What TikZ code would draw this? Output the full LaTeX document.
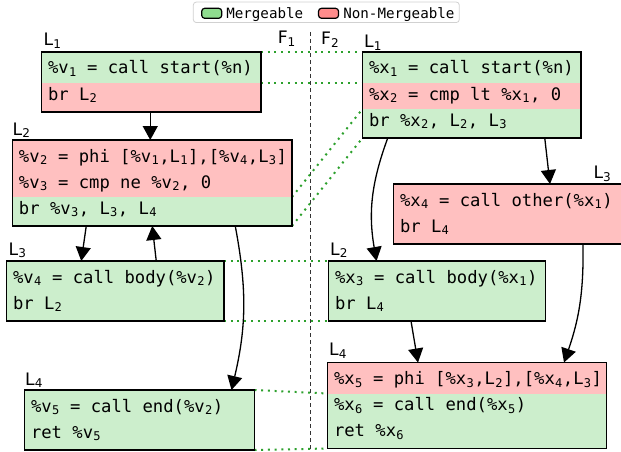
\documentclass[tikz,border=0pt]{standalone}
\usepackage{fontspec}
\setmainfont{DejaVu Sans}
\setmonofont{DejaVu Sans Mono}
\usetikzlibrary{arrows.meta,positioning}

\definecolor{mergefill}{HTML}{CCEECC}
\definecolor{nonmergefill}{HTML}{FFC0C0}
\definecolor{mergekey}{HTML}{8FDC8F}
\definecolor{nonmergekey}{HTML}{FF8C8C}
\definecolor{matchgreen}{HTML}{2CA02C}

% 代码里的下标
\newcommand{\idx}[1]{\kern0.3pt\textsubscript{#1}\relax}
% 代码行: 不断行, 用字体本身的空格
\newcommand{\codebegin}{\leavevmode\hbox\bgroup\spaceskip0pt\xspaceskip0pt\relax}

\tikzset{
  row/.style={rectangle, inner xsep=6.5pt, inner ysep=0pt, outer sep=0pt,
    anchor=north west, minimum height=26pt, text height=13pt, text depth=5pt,
    align=left, text width=#1-13pt,
    font=\ttfamily\fontsize{17.2pt}{20pt}\selectfont,
    execute at begin node={\codebegin},
    execute at end node={\egroup}},
  toprow/.style={minimum height=31pt, text height=18pt},
  endrow/.style={minimum height=29pt, text depth=8pt},
  mrow/.style={row=#1, fill=mergefill},
  nrow/.style={row=#1, fill=nonmergefill},
  blockline/.style={draw=black, line width=1.4pt},
  blocklabel/.style={anchor=base west, inner sep=0pt, font=\fontsize{17.2pt}{20pt}\selectfont},
  flow/.style={-{Triangle[width=15pt,length=14pt]}, line width=1.3pt},
  match/.style={matchgreen, line width=2pt, dash pattern=on 2pt off 4.7pt},
  sepline/.style={black!80, line width=1pt, dash pattern=on 4pt off 3pt},
  keybox/.style={draw=black!18, fill=white, rounded corners=3pt, line width=0.8pt},
  swatch/.style={draw=black, line width=1.2pt, rounded corners=3pt, minimum width=20pt, minimum height=10pt, inner sep=0pt},
  keytext/.style={inner sep=0pt, text height=13pt, text depth=3pt, font=\ttfamily\fontsize{14.2pt}{16pt}\selectfont}
}

\begin{document}
\begin{tikzpicture}[x=1pt, y=-1pt]
    \useasboundingbox (0,0) rectangle (621,452);
    \clip (0,0) rectangle (621,452);

    % 图例
    \node[keybox, minimum width=266pt, minimum height=20.5pt] (key) at (326.3,12.3) {};
    \node[swatch, fill=mergekey] (kmerge) at (211.7,13.3) {};
    \node[keytext, right=3.8pt of kmerge] (kmergetext) {Mergeable};
    \node[swatch, fill=nonmergekey, right=14.5pt of kmergetext] (knonmerge) {};
    \node[keytext, right=4pt of knonmerge] (knonmergetext) {Non-Mergeable};

    % 两个函数之间的分隔线
    \coordinate (septop) at (310,32);
    \coordinate (sepbot) at (310,452);
    \draw[sepline] (septop) -- (sepbot);
    \node[blocklabel] (f1) at (277.6,44) {F\textsubscript{1}};
    \node[blocklabel] (f2) at (321,45) {F\textsubscript{2}};

    % F1 的基本块
    \node[mrow=219.5pt, toprow] (lv1a) at (41.5,52) {\%v\idx{1} = call start(\%n)};
    \node[nrow=219.5pt, endrow] (lv1b) at (lv1a.south west) {br L\idx{2}};

    \node[nrow=279.5pt, toprow] (lv2a) at (12.5,140) {\%v\idx{2} = phi [\%v\idx{1},L\idx{1}],[\%v\idx{4},L\idx{3}]};
    \node[nrow=279.5pt] (lv2b) at (lv2a.south west) {\%v\idx{3} = cmp ne \%v\idx{2}, 0};
    \node[mrow=279.5pt, endrow] (lv2c) at (lv2b.south west) {br \%v\idx{3}, L\idx{3}, L\idx{4}};

    \node[mrow=217.5pt, toprow] (lv3a) at (6.5,261) {\%v\idx{4} = call body(\%v\idx{2})};
    \node[mrow=217.5pt, endrow] (lv3b) at (lv3a.south west) {br L\idx{2}};

    \node[mrow=230pt, toprow] (lv4a) at (24.5,390) {\%v\idx{5} = call end(\%v\idx{2})};
    \node[mrow=230pt, endrow] (lv4b) at (lv4a.south west) {ret \%v\idx{5}};

    % F2 的基本块
    \node[mrow=218.5pt, toprow] (rx1a) at (362.5,52) {\%x\idx{1} = call start(\%n)};
    \node[nrow=218.5pt] (rx1b) at (rx1a.south west) {\%x\idx{2} = cmp lt \%x\idx{1}, 0};
    \node[mrow=218.5pt, endrow] (rx1c) at (rx1b.south west) {br \%x\idx{2}, L\idx{2}, L\idx{3}};

    \node[nrow=250pt, toprow] (rx3a) at (393.5,184) {\%x\idx{4} = call other(\%x\idx{1})};
    \node[nrow=250pt, endrow] (rx3b) at (rx3a.south west) {br L\idx{4}};

    \node[mrow=217pt, toprow] (rx2a) at (328.5,261) {\%x\idx{3} = call body(\%x\idx{1})};
    \node[mrow=217pt, endrow] (rx2b) at (rx2a.south west) {br L\idx{4}};

    \node[nrow=279pt, toprow] (rx4a) at (327.5,362.5) {\%x\idx{5} = phi [\%x\idx{3},L\idx{2}],[\%x\idx{4},L\idx{3}]};
    \node[mrow=279pt] (rx4b) at (rx4a.south west) {\%x\idx{6} = call end(\%x\idx{5})};
    \node[mrow=279pt, endrow] (rx4c) at (rx4b.south west) {ret \%x\idx{6}};

    % 可合并的对应关系 (绿色点线)
    \draw[match] (lv1a.north east) -- (rx1a.north west);
    \draw[match] (lv1b.north east) -- (rx1b.north west);
    \draw[match] (lv2c.north east) -- (rx1c.north west);
    \draw[match] (lv2c.south east) -- (rx1c.south west);
    \draw[match] (lv3a.north east) -- (rx2a.north west);
    \draw[match] (lv3b.south east) -- (rx2b.south west);
    \draw[match] (lv4a.north east) -- (rx4b.north west);
    \draw[match] (lv4b.south east) -- (rx4c.south west);

    % 基本块外框
    \draw[blockline] (lv1a.north west) rectangle (lv1b.south east);
    \draw[blockline] (lv2a.north west) rectangle (lv2c.south east);
    \draw[blockline] (lv3a.north west) rectangle (lv3b.south east);
    \draw[blockline] (lv4a.north west) rectangle (lv4b.south east);
    \draw[blockline] (rx1a.north west) rectangle (rx1c.south east);
    \draw[blockline] (rx3a.north west) rectangle (rx3b.south east);
    \draw[blockline] (rx2a.north west) rectangle (rx2b.south east);
    \draw[blockline] (rx4a.north west) rectangle (rx4c.south east);

    % 块标签
    \node[blocklabel] (lv1l) at ([xshift=2pt,yshift=6.3pt]lv1a.north west) {L\textsubscript{1}};
    \node[blocklabel] (lv2l) at ([xshift=0pt,yshift=5pt]lv2a.north west) {L\textsubscript{2}};
    \node[blocklabel] (lv3l) at ([xshift=2pt,yshift=6pt]lv3a.north west) {L\textsubscript{3}};
    \node[blocklabel] (lv4l) at ([xshift=0.5pt,yshift=5pt]lv4a.north west) {L\textsubscript{4}};
    \node[blocklabel] (rx1l) at ([xshift=1.5pt,yshift=4.5pt]rx1a.north west) {L\textsubscript{1}};
    \node[blocklabel] (rx3l) at ([xshift=199.8pt,yshift=5.7pt]rx3a.north west) {L\textsubscript{3}};
    \node[blocklabel] (rx2l) at ([xshift=1.5pt,yshift=6pt]rx2a.north west) {L\textsubscript{2}};
    \node[blocklabel] (rx4l) at ([xshift=1.5pt,yshift=6.8pt]rx4a.north west) {L\textsubscript{4}};

    % 控制流箭头
    \draw[flow] ([xshift=-1pt]lv1b.south) -- ([xshift=-2pt]lv2a.north);
    \draw[flow] ([xshift=-66pt]lv2c.south) -- ([xshift=-34pt]lv3a.north);
    \draw[flow] ([xshift=41pt]lv3a.north) -- (lv2c.south);
    \draw[flow] ([xshift=83pt]lv2c.south) to[bend left=12] ([xshift=92pt]lv4a.north);
    \draw[flow] ([xshift=-84pt]rx1c.south) to[bend right=15] ([xshift=-60.5pt]rx2a.north);
    \draw[flow] ([xshift=73pt]rx1c.south) -- ([xshift=31.5pt]rx3a.north);
    \draw[flow] ([xshift=64.5pt]rx3b.south) to[bend left=10] ([xshift=97pt]rx4a.north);
    \draw[flow] ([xshift=-26pt]rx2b.south) -- ([xshift=-49pt]rx4a.north);

\end{tikzpicture}
\end{document}
